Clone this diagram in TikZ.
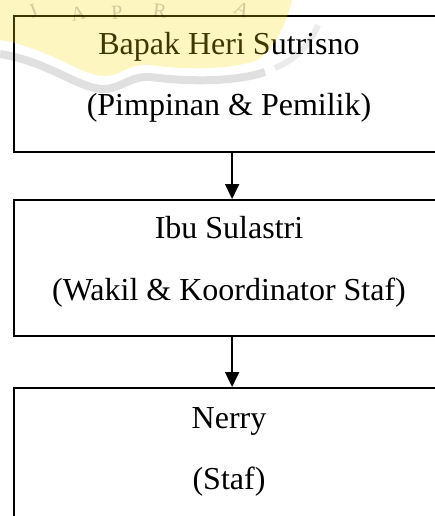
\documentclass[tikz,border=0pt]{standalone}
\usepackage{fontspec}
\setmainfont{Liberation Serif}
\usetikzlibrary{arrows.meta}
\begin{document}
\begin{tikzpicture}[x=1pt,y=1pt,
  box/.style={draw=black, line width=2.2pt, minimum width=436pt, minimum height=136pt, anchor=north west, inner sep=0pt},
  lbl/.style={anchor=base, font=\fontsize{32}{38}\selectfont, inner sep=0pt},
  conn/.style={line width=2pt, -{Triangle[width=14pt,length=15pt]}},
  wmletter/.style={text=black, opacity=0.18, font=\fontsize{20}{20}\selectfont, inner sep=0pt}
]
\useasboundingbox (0,0) rectangle (435,-516);
\clip (0,0) rectangle (435,-516);
\fill[white] (0,0) rectangle (435,-516);

% boxes
\node[box] (b1) at (13,-15) {};
\node[box] (b2) at (13,-199) {};
\node[box] (b3) at (13,-387) {};

% texts
\node[lbl] (t1a) at (229,-55) {Bapak Heri Sutrisno};
\node[lbl] (t1b) at (229,-115) {(Pimpinan \& Pemilik)};
\node[lbl] (t2a) at (229,-238) {Ibu Sulastri};
\node[lbl] (t2b) at (229,-300) {(Wakil \& Koordinator Staf)};
\node[lbl] (t3a) at (229,-428) {Nerry};
\node[lbl] (t3b) at (229,-489) {(Staf)};

% connectors
\draw[conn] (b1.south) -- (b2.north);
\draw[conn] (b2.south) -- (b3.north);

% faint watermark
\fill[yellow!80!orange, opacity=0.25]
  (0,0) -- (292,0) .. controls (286,-25) and (276,-45) .. (258,-60)
  .. controls (230,-70) and (185,-70) .. (150,-65)
  .. controls (130,-63) and (120,-76) .. (105,-76)
  .. controls (80,-76) and (50,-48) .. (0,-40) -- cycle;
\draw[black, opacity=0.12, line width=8pt]
  (0,-54) .. controls (50,-62) and (80,-90) .. (105,-89)
  .. controls (122,-88) and (130,-76) .. (150,-77)
  .. controls (190,-82) and (235,-82) .. (265,-72);
\draw[black, opacity=0.08, line width=6pt]
  (275,-68) .. controls (295,-60) and (310,-45) .. (318,-25);
\node[wmletter, rotate=22] (w1) at (33,-11) {J};
\node[wmletter, rotate=12] (w2) at (78,-14) {A};
\node[wmletter, rotate=4] (w3) at (117,-13) {P};
\node[wmletter, rotate=-8] (w4) at (160,-11) {R};
\node[wmletter, rotate=-25] (w5) at (242,-10) {A};
\end{tikzpicture}
\end{document}
